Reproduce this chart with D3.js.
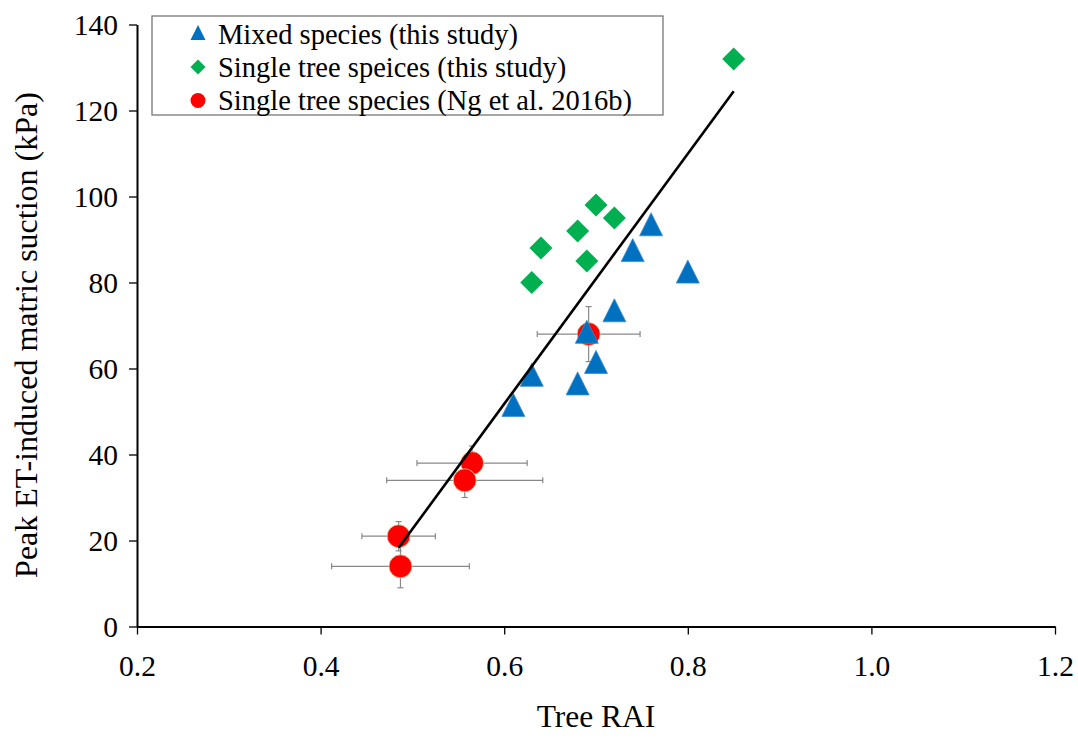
<!DOCTYPE html>
<html><head><meta charset="utf-8">
<script src="https://cdn.jsdelivr.net/npm/d3@7"></script>
<style>body{margin:0;background:#fff}svg{display:block}</style>
</head><body>
<script>
// Data
const mixedX = [0.76, 0.74, 0.80, 0.72, 0.69, 0.70, 0.63, 0.68, 0.61];
const mixedY = [93, 87, 82, 73, 68, 61, 58, 56, 51];
const singleX = [0.64, 0.63, 0.68, 0.69, 0.70, 0.72, 0.85];
const singleY = [88, 80, 92, 85, 98, 95, 132];
const ngX = [0.565, 0.557, 0.485, 0.487, 0.692];
const ngY = [38, 34, 21, 14, 68];
const ngXErr = [0.06, 0.085, 0.04, 0.075, 0.056];
const ngYErr = [4, 4, 3.4, 5, 6.4];
const fitX = [0.485, 0.85];
const fitY = [18.3, 124.5];
const xTicks = [0.2, 0.4, 0.6, 0.8, 1.0, 1.2];
const yTicks = [0, 20, 40, 60, 80, 100, 120, 140];
const legendLabels = ["Mixed species (this study)", "Single tree speices (this study)", "Single tree species (Ng et al. 2016b)"];
const xTitle = "Tree RAI";
const yTitle = "Peak ET-induced matric suction (kPa)";

const FONT = "Liberation Serif";
const W = 1078, H = 740;
const svg = d3.select("body").append("svg").attr("width", W).attr("height", H);
const x = d3.scaleLinear().domain([0.2, 1.2]).range([137, 1055]);
const y = d3.scaleLinear().domain([0, 140]).range([626.5, 24.5]);

const xAxis = svg.append("g").attr("transform", "translate(0,626.5)")
  .call(d3.axisBottom(x).tickValues(xTicks).tickFormat(d3.format(".1f")).tickSize(8).tickSizeOuter(0));
const yAxis = svg.append("g").attr("transform", "translate(137,0)")
  .call(d3.axisLeft(y).tickValues(yTicks).tickFormat(d3.format("d")).tickSize(8).tickSizeOuter(0));
[xAxis, yAxis].forEach(a => {
  a.attr("font-family", FONT).attr("font-size", 29.5);
  a.select(".domain").attr("stroke", "#000").attr("stroke-width", 2);
  a.selectAll(".tick line").attr("stroke", "#000").attr("stroke-width", 1.3);
  a.selectAll("text").attr("font-family", FONT).attr("font-size", 29.5).attr("fill", "#000");
});
xAxis.selectAll("text").attr("dy", null).attr("y", 49);
yAxis.selectAll("text").attr("x", -19).attr("dy", "0.35em");

svg.append("text").attr("x", 596).attr("y", 727).attr("text-anchor", "middle")
  .attr("font-family", FONT).attr("font-size", 31.5).text(xTitle);
svg.append("text").attr("transform", "translate(37,335) rotate(-90)").attr("text-anchor", "middle")
  .attr("font-family", FONT).attr("font-size", 32).text(yTitle);

const ng = ngX.map((v, i) => ({x: v, y: ngY[i], ex: ngXErr[i], ey: ngYErr[i]}));
// error bars
const eb = svg.append("g").attr("stroke", "#888").attr("stroke-width", 1.2).attr("fill", "none");
ng.forEach(d => {
  eb.append("line").attr("x1", x(d.x - d.ex)).attr("x2", x(d.x + d.ex)).attr("y1", y(d.y)).attr("y2", y(d.y));
  eb.append("line").attr("x1", x(d.x - d.ex)).attr("x2", x(d.x - d.ex)).attr("y1", y(d.y) - 3).attr("y2", y(d.y) + 3);
  eb.append("line").attr("x1", x(d.x + d.ex)).attr("x2", x(d.x + d.ex)).attr("y1", y(d.y) - 3).attr("y2", y(d.y) + 3);
  eb.append("line").attr("x1", x(d.x)).attr("x2", x(d.x)).attr("y1", y(d.y - d.ey)).attr("y2", y(d.y + d.ey));
  eb.append("line").attr("x1", x(d.x) - 3).attr("x2", x(d.x) + 3).attr("y1", y(d.y - d.ey)).attr("y2", y(d.y - d.ey));
  eb.append("line").attr("x1", x(d.x) - 3).attr("x2", x(d.x) + 3).attr("y1", y(d.y + d.ey)).attr("y2", y(d.y + d.ey));
});
svg.append("g").selectAll("circle").data(ng).join("circle")
  .attr("cx", d => x(d.x)).attr("cy", d => y(d.y)).attr("r", 11.5)
  .attr("fill", "#FF0000").attr("stroke", "#d8dca8").attr("stroke-width", 0.8);

const triPath = (cx, cy, s) => `M${cx},${cy - s * 0.6}L${cx + s / 2},${cy + s * 0.4}L${cx - s / 2},${cy + s * 0.4}Z`;
const diaPath = (cx, cy, s) => `M${cx},${cy - s / 2}L${cx + s / 2},${cy}L${cx},${cy + s / 2}L${cx - s / 2},${cy}Z`;

svg.append("g").selectAll("path").data(mixedX.map((v, i) => [v, mixedY[i]])).join("path")
  .attr("d", d => triPath(x(d[0]), y(d[1]), 23))
  .attr("fill", "#0070C0").attr("stroke", "#3a8ccc").attr("stroke-width", 0.8);
svg.append("g").selectAll("path").data(singleX.map((v, i) => [v, singleY[i]])).join("path")
  .attr("d", d => diaPath(x(d[0]), y(d[1]), 23))
  .attr("fill", "#00B050");

svg.append("line").attr("x1", x(fitX[0])).attr("y1", y(fitY[0])).attr("x2", x(fitX[1])).attr("y2", y(fitY[1]))
  .attr("stroke", "#000").attr("stroke-width", 2.6);

// legend
const lg = svg.append("g");
lg.append("rect").attr("x", 152).attr("y", 16).attr("width", 511).attr("height", 99)
  .attr("fill", "#fff").attr("stroke", "#777").attr("stroke-width", 1.3);
const rowsY = [34, 67, 100.5];
lg.append("path").attr("d", triPath(198, rowsY[0], 15)).attr("fill", "#0070C0");
lg.append("path").attr("d", diaPath(198, rowsY[1], 15)).attr("fill", "#00B050");
lg.append("circle").attr("cx", 198).attr("cy", rowsY[2]).attr("r", 7.5).attr("fill", "#FF0000");
legendLabels.forEach((t, i) => {
  lg.append("text").attr("x", 218).attr("y", rowsY[i]).attr("dy", "0.35em")
    .attr("font-family", FONT).attr("font-size", 28.5).text(t);
});
</script>
</body></html>
